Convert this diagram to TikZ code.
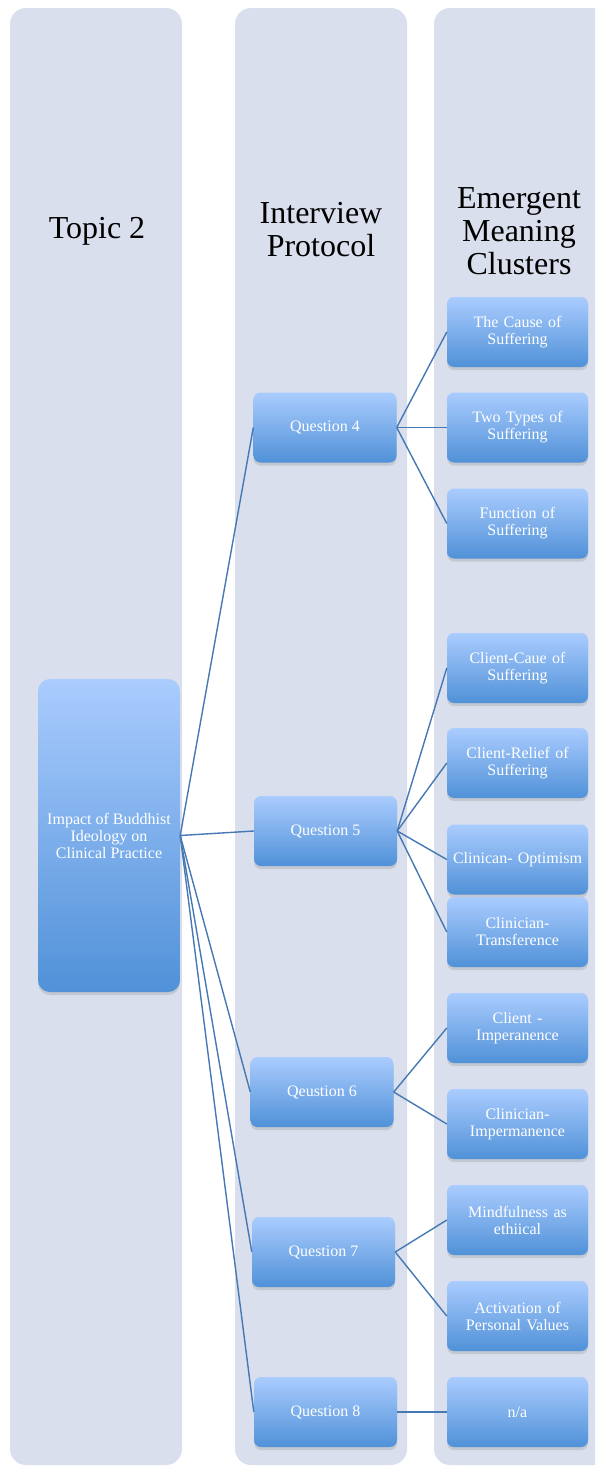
\documentclass[tikz,border=0pt]{standalone}
\usepackage{fontspec}
\setmainfont{Liberation Serif}
\usetikzlibrary{shadows}
\definecolor{colbg}{RGB}{217,223,236}
\definecolor{boxtop}{RGB}{170,204,254}
\definecolor{boxbot}{RGB}{80,145,216}
\definecolor{linec}{RGB}{70,120,180}
\begin{document}
\begin{tikzpicture}[x=1pt,y=-1pt,
 hbox/.style={rounded corners=7pt, top color=boxtop, bottom color=boxbot, draw=none,
   drop shadow={opacity=0.25, shadow xshift=0pt, shadow yshift=-3pt},
   text=white, font=\fontsize{16}{17}\selectfont, align=center, inner sep=2pt},
 cbox/.style={hbox, minimum width=141pt, minimum height=70pt, text width=137pt},
 qbox/.style={hbox, minimum width=143pt, minimum height=70pt},
 conn/.style={draw=linec, line width=1.4pt},
 head/.style={font=\fontsize{32}{33}\selectfont, align=center, text=black}
]
\useasboundingbox (0,0) rectangle (595,1467);
\clip (0,0) rectangle (595,1467);
\fill[colbg, rounded corners=16pt] (10,8) rectangle (182,1465);
\fill[colbg, rounded corners=16pt] (235,8) rectangle (407,1465);
\fill[colbg, rounded corners=16pt] (434,8) rectangle (620,1465);

\node[head] (h1) at (97,231) {Topic 2};
\node[head] (h2) at (321,230) {Interview\\Protocol};
\node[head] (h3) at (519,231) {Emergent\\Meaning\\Clusters};

\node[hbox, rounded corners=12pt, minimum width=142pt, minimum height=313pt] (main) at (109,835.5) {Impact of Buddhist\\Ideology on\\Clinical Practice};

\node[qbox] (q4) at (325,427.5) {Question 4};
\node[qbox] (q5) at (325.5,831) {Question 5};
\node[qbox] (q6) at (322,1092) {Qeustion 6};
\node[qbox] (q7) at (323.5,1252) {Question 7};
\node[qbox] (q8) at (325.5,1412) {Question 8};

\node[cbox] (c1) at (517.5,332) {The Cause of\\Suffering};
\node[cbox] (c2) at (517.5,427.5) {Two Types of\\Suffering};
\node[cbox] (c3) at (517.5,523.5) {Function of\\Suffering};
\node[cbox] (c4) at (517.5,668) {Client-Caue of\\Suffering};
\node[cbox] (c5) at (517.5,763) {Client-Relief of\\Suffering};
\node[cbox] (c6) at (517.5,859.5) {Clinican- Optimism};
\node[cbox] (c7) at (517.5,932) {Clinician-\\Transference};
\node[cbox] (c8) at (517.5,1028) {Client -\\Imperanence};
\node[cbox] (c9) at (517.5,1124) {Clinician-\\Impermanence};
\node[cbox] (c10) at (517.5,1220) {Mindfulness as\\ethiical};
\node[cbox] (c11) at (517.5,1316) {Activation of\\Personal Values};
\node[cbox] (c12) at (517.5,1412) {n/a};

\foreach \q in {q4,q5,q6,q7,q8} \draw[conn] (main.east) -- (\q.west);
\foreach \c in {c1,c2,c3} \draw[conn] (q4.east) -- (\c.west);
\foreach \c in {c4,c5,c6,c7} \draw[conn] (q5.east) -- (\c.west);
\foreach \c in {c8,c9} \draw[conn] (q6.east) -- (\c.west);
\foreach \c in {c10,c11} \draw[conn] (q7.east) -- (\c.west);
\draw[conn] (q8.east) -- (c12.west);
\end{tikzpicture}
\end{document}
